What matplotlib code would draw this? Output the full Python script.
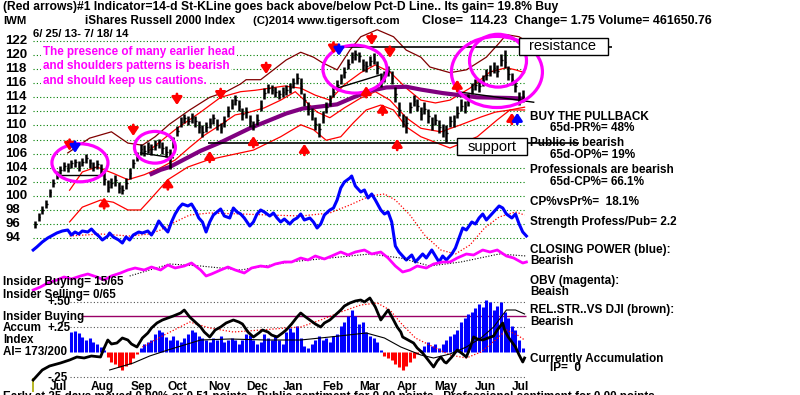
import matplotlib
matplotlib.use('Agg')
import matplotlib.pyplot as plt
from matplotlib.patches import Ellipse, Rectangle
from matplotlib import transforms

plt.rcParams['font.family'] = ['Liberation Sans', 'DejaVu Sans']
plt.rcParams['font.weight'] = 'bold'

W, H = 800, 395

# ---------------- data ----------------
# IWM daily bars, one bar every 2 trading days starting 6/25/13
hi = [96.5, 97.6, 98.5, 99.4, 101.0, 102.4, 103.5, 104.3, 104.8, 104.7,
      105.1, 105.3, 104.9, 105.4, 105.9, 105.2, 104.8, 105.1, 104.5, 103.5,
      102.3, 102.6, 103.0, 102.0, 101.6, 102.6, 104.0, 105.2, 106.3, 107.4,
      107.2, 107.6, 107.3, 107.9, 108.1, 107.6, 107.1, 106.6, 108.3, 109.9,
      111.2, 111.7, 111.4, 111.8, 111.4, 110.6, 110.0, 110.5, 111.0, 111.7,
      110.9, 110.4, 111.4, 112.8, 113.7, 114.3, 113.6, 112.5, 112.6, 111.5,
      110.7, 111.6, 113.6, 115.3, 115.9, 115.8, 115.4, 115.1, 115.4, 115.7,
      116.0, 116.7, 117.4, 116.8, 114.6, 113.4, 112.5, 111.2, 110.4, 112.0,
      113.4, 114.3, 115.5, 116.5, 117.3, 118.3, 119.5, 120.4, 120.7, 120.5,
      119.5, 119.2, 119.9, 120.3, 119.2, 117.4, 117.8, 118.4, 117.8, 115.5,
      113.3, 111.7, 111.4, 113.4, 114.3, 113.7, 112.6, 113.3, 112.3, 111.2,
      111.7, 110.8, 110.2, 110.0, 111.4, 111.5, 112.7, 113.7, 113.5, 114.4,
      116.0, 116.6, 116.5, 117.2, 118.0, 118.6, 119.0, 118.6, 120.2, 120.7,
      118.4, 117.5, 116.5, 114.8, 115.0]
lo = [95.4, 96.4, 97.4, 98.3, 99.9, 101.2, 102.4, 103.1, 103.6, 103.4,
      104.0, 104.1, 103.5, 104.2, 104.7, 103.9, 103.5, 103.8, 103.0, 101.6,
      100.6, 101.1, 101.4, 100.4, 100.3, 101.0, 102.4, 103.9, 104.9, 105.8,
      105.7, 106.1, 105.8, 106.5, 106.8, 106.0, 105.5, 103.8, 106.8, 108.5,
      109.8, 110.3, 110.0, 110.4, 109.8, 109.0, 108.3, 109.1, 109.6, 110.2,
      109.3, 108.9, 109.8, 111.2, 112.3, 112.9, 112.0, 110.8, 111.1, 109.8,
      109.3, 110.0, 112.0, 113.8, 114.6, 114.4, 114.0, 113.7, 114.0, 114.3,
      114.6, 115.3, 115.9, 114.5, 112.8, 111.5, 110.8, 109.3, 108.4, 110.4,
      111.8, 112.7, 114.0, 115.0, 115.9, 116.8, 118.0, 118.9, 119.3, 119.0,
      117.8, 117.6, 118.4, 118.7, 117.3, 115.5, 116.2, 117.0, 115.9, 113.4,
      111.3, 109.8, 109.0, 111.8, 112.7, 112.0, 110.8, 111.6, 110.4, 109.3,
      110.0, 108.9, 108.3, 107.7, 109.8, 109.8, 111.0, 112.0, 111.8, 112.8,
      114.4, 115.0, 114.8, 115.6, 116.4, 117.0, 117.4, 116.9, 118.5, 118.2,
      116.5, 115.8, 114.7, 112.9, 113.4]
close = [96.0, 97.0, 98.0, 98.9, 100.6, 101.8, 102.9, 103.7, 104.2, 104.0,
         104.6, 104.8, 104.2, 104.8, 105.4, 104.6, 104.1, 104.5, 103.8, 102.4,
         101.3, 101.8, 102.2, 101.1, 100.9, 101.8, 103.2, 104.6, 105.6, 106.6,
         106.4, 106.9, 106.6, 107.2, 107.6, 106.8, 106.3, 105.8, 107.6, 109.2,
         110.5, 111.0, 110.7, 111.1, 110.6, 109.8, 109.1, 109.8, 110.3, 111.0,
         110.1, 109.6, 110.6, 112.0, 113.0, 113.6, 112.8, 111.6, 111.9, 110.6,
         109.9, 110.8, 112.8, 114.6, 115.3, 115.1, 114.7, 114.4, 114.7, 115.0,
         115.3, 116.0, 116.7, 115.6, 113.6, 112.3, 111.6, 110.2, 109.5, 111.2,
         112.6, 113.5, 114.8, 115.8, 116.6, 117.6, 118.8, 119.7, 120.1, 119.8,
         118.6, 118.4, 119.2, 119.5, 118.2, 116.4, 117.0, 117.8, 116.8, 114.4,
         112.2, 110.6, 110.4, 112.6, 113.5, 112.8, 111.6, 112.4, 111.3, 110.2,
         110.8, 109.8, 109.2, 108.9, 110.6, 110.6, 111.8, 112.8, 112.6, 113.6,
         115.2, 115.8, 115.6, 116.4, 117.2, 117.8, 118.2, 117.7, 119.3, 119.0,
         117.3, 116.6, 115.6, 113.8, 114.2]
bar_day = list(range(0, 2 * len(hi), 2))

# price overlays: (trading day, price)
ma65_day = [63, 69, 74, 91, 102, 118, 138, 147, 157, 166, 175, 184, 193, 204, 212, 224, 243, 261, 269]
ma65_val = [103.0, 103.7, 104.1, 106.4, 107.6, 109.6, 111.7, 112.4, 112.7, 113.0, 114.0, 114.9,
            115.4, 115.5, 115.1, 114.6, 114.0, 113.9, 113.8]
upper_day = [18, 30, 42, 51, 59, 66, 74, 85, 96, 105, 113, 116, 124, 131, 138, 146, 153, 158, 166,
             173, 179, 188, 197, 204, 212, 217, 228, 237, 248, 255, 259, 266, 269]
upper_val = [106.1, 108.2, 109.1, 107.5, 107.2, 108.4, 110.2, 112.2, 114.0, 114.8, 115.9, 116.5,
             116.5, 117.9, 119.3, 120.4, 119.7, 118.9, 117.9, 120.7, 122.6, 123.6, 122.6, 120.7,
             119.7, 118.3, 117.5, 117.9, 119.7, 121.7, 122.9, 122.6, 122.1]
lower_day = [19, 26, 36, 43, 51, 58, 63, 73, 84, 95, 102, 120, 135, 146, 153, 160, 168, 175, 182,
             190, 197, 204, 212, 217, 228, 243, 254, 261, 269]
lower_val = [96.3, 98.4, 99.4, 99.1, 98.0, 98.0, 99.4, 102.3, 104.1, 105.1, 105.5, 106.5, 108.4,
             110.1, 109.4, 107.9, 108.4, 110.4, 112.2, 112.9, 112.2, 109.8, 108.4, 107.9, 106.8,
             108.4, 110.8, 112.2, 112.6]
band_lo_day = [19, 26, 34, 43, 51, 60, 69, 77, 85, 93, 102, 110, 118, 126, 135, 143, 148, 155, 162,
               170, 179, 187, 195, 204, 212, 223, 234, 245, 253, 261, 269]
band_lo_val = [100.8, 103.4, 104.1, 103.2, 102.3, 103.0, 104.0, 105.1, 106.9, 108.6, 110.1, 111.5,
               111.9, 112.5, 113.6, 114.8, 113.6, 111.9, 111.1, 112.5, 113.9, 114.8, 113.6, 111.1,
               109.6, 109.1, 110.1, 111.2, 111.9, 112.2, 112.2]
band_hi_day = [63, 77, 91, 102, 113, 121, 129, 137, 146, 154, 162, 170, 179, 187, 195, 204, 212,
               220, 228, 239, 250, 259, 264, 269]
band_hi_val = [106.5, 109.4, 111.9, 114.0, 114.8, 115.0, 115.3, 115.6, 115.3, 114.3, 113.6, 115.8,
               117.5, 118.6, 117.6, 115.3, 113.6, 113.2, 113.6, 115.3, 117.6, 118.2, 117.9, 117.5]

# signal arrows: (trading day, price at arrow tip, colour)
down_arrows = [(19, 106.4, 'red'), (22, 106.1, 'blue'), (54, 108.5, 'red'), (78, 112.9, 'red'),
               (102, 113.6, 'red'), (127, 117.3, 'red'), (164, 120.2, 'red'), (167, 119.9, 'blue'),
               (185, 121.4, 'red'), (195, 119.6, 'red')]
up_arrows = [(38, 99.8, 'red'), (73, 102.5, 'red'), (96, 106.4, 'red'), (120, 108.5, 'red'),
             (148, 107.4, 'red'), (182, 115.6, 'red'), (191, 113.1, 'red'), (199, 108.1, 'red'),
             (232, 116.5, 'red'), (262, 111.8, 'red'), (265, 111.8, 'blue')]

support_price = 107.5
resistance_price = 121.15

# Closing Power (blue) and its MA
cp_day = [-1, 1, 4, 7, 9, 12, 15, 18, 20, 22, 24, 26, 29, 31, 33, 35, 37, 40, 41, 43,
          46, 48, 50, 52, 54, 57, 59, 62, 64, 66, 68, 70, 73, 75, 77, 79, 81, 84, 86, 88,
          90, 92, 94, 96, 98, 100, 102, 104, 107, 109, 111, 113, 115, 118, 120, 122, 124, 126, 129, 131,
          133, 135, 137, 140, 142, 144, 146, 148, 151, 153, 155, 157, 159, 162, 164, 166, 168, 170, 173, 174,
          176, 179, 181, 183, 185, 187, 190, 192, 194, 196, 198, 200, 202, 204, 207, 209, 211, 213, 215, 218,
          220, 222, 224, 226, 229, 231, 233, 235, 237, 240, 242, 244, 246, 248, 251, 253, 255, 257, 259, 262,
          264, 266, 268, 270]
cp_val = [0, 3, 8, 12, 14, 17, 19, 20, 15, 18, 16, 19, 18, 21, 17, 14, 10, 14, 17, 13,
          10, 7, 13, 10, 15, 18, 17, 19, 15, 21, 29, 24, 18, 28, 36, 42, 46, 44, 46, 40,
          32, 28, 18, 28, 35, 38, 41, 34, 32, 42, 38, 36, 32, 24, 28, 36, 40, 38, 34, 37,
          32, 28, 31, 26, 30, 32, 36, 30, 32, 28, 22, 26, 35, 40, 42, 50, 62, 68, 72, 74,
          64, 58, 60, 52, 56, 50, 40, 36, 38, 28, 4, -2, -6, -10, -5, -12, -8, -4, -8, 0,
          -6, -12, -6, -10, -4, 2, 12, 22, 20, 28, 26, 32, 36, 30, 36, 40, 44, 42, 36, 32,
          36, 26, 18, 14]
cpma_day = [19, 36, 52, 63, 69, 77, 85, 96, 113, 129, 146, 162, 173, 184, 192, 198, 206, 214, 223,
            231, 239, 247, 255, 264, 269]
cpma_val = [14, 16, 14, 16, 20, 28, 35, 37, 36, 35, 34, 37, 45, 54, 56, 50, 35, 15, 0, -4, 5, 22,
            33, 38, 35]

# OBV (magenta) and its MA
obv_day = [-1, 3, 7, 12, 16, 20, 25, 29, 34, 38, 42, 47, 51, 55, 60, 64, 69, 73, 77, 82,
           86, 91, 94, 97, 102, 106, 110, 115, 119, 124, 128, 132, 137, 141, 146, 150, 154, 159, 163, 168,
           172, 176, 181, 185, 190, 194, 198, 202, 206, 210, 215, 219, 224, 228, 232, 237, 241, 246, 250, 254,
           259, 263, 268, 270]
obv_val = [0, 3, 7, 10, 13, 11, 14, 16, 13, 10, 14, 17, 20, 22, 20, 23, 20, 25, 22, 24,
           27, 20, 14, 16, 20, 23, 20, 17, 22, 24, 23, 26, 28, 28, 32, 30, 34, 31, 34, 38,
           35, 38, 40, 36, 38, 32, 24, 18, 20, 24, 22, 26, 28, 28, 32, 36, 35, 40, 38, 40,
           34, 32, 27, 28]
obvma_day = [52, 74, 91, 113, 140, 162, 184, 201, 217, 234, 255, 270]
obvma_val = [14, 26, 24, 20, 28, 32, 36, 32, 24, 28, 36, 34]

# Accumulation Index histogram, one value every 2 days from day 20
ai = [0.20, 0.21, 0.19, 0.15, 0.12, 0.14, 0.10, 0.08, 0.05, 0.02,
      -0.05, -0.10, -0.12, -0.15, -0.18, -0.14, -0.12, -0.06, -0.02, 0.04,
      0.08, 0.10, 0.12, 0.18, 0.22, 0.20, 0.15, 0.12, 0.16, 0.12,
      0.10, 0.14, 0.18, 0.22, 0.20, 0.16, 0.14, 0.12, 0.10, 0.14,
      0.12, 0.16, 0.10, 0.12, 0.14, 0.12, 0.08, 0.12, 0.18, 0.17,
      0.12, 0.08, 0.10, 0.18, 0.14, 0.12, 0.17, 0.12, 0.08, 0.20,
      0.24, 0.20, 0.26, 0.14, 0.06, 0.04, 0.08, 0.12, 0.16, 0.12,
      0.14, 0.10, 0.16, 0.18, 0.26, 0.30, 0.36, 0.42, 0.36, 0.28,
      0.30, 0.20, 0.16, 0.14, 0.10, 0.02, -0.04, -0.06, -0.08, -0.12,
      -0.15, -0.18, -0.14, -0.10, -0.06, -0.02, 0.02, 0.06, 0.10, 0.06,
      0.08, 0.04, 0.08, 0.12, 0.16, 0.18, 0.22, 0.30, 0.34, 0.38,
      0.40, 0.44, 0.48, 0.45, 0.52, 0.50, 0.42, 0.46, 0.50, 0.40,
      0.34, 0.26, 0.22, 0.12, 0.04]
ai_day = list(range(20, 20 + 2 * len(ai), 2))
insider_level = 0.36

# relative strength (thick black), its MA (thin black), AI MA (red dotted)
rs_day = [-1, 4, 8, 14, 19, 23, 27, 31, 36, 38, 40, 42, 45, 48, 51, 53, 56, 59, 62, 64,
          67, 70, 73, 76, 80, 82, 85, 88, 91, 93, 96, 99, 102, 105, 109, 112, 114, 117, 120, 123,
          125, 128, 130, 133, 136, 138, 141, 144, 146, 148, 151, 154, 157, 159, 162, 165, 168, 170, 173, 176,
          179, 181, 184, 187, 190, 192, 194, 197, 199, 201, 202, 205, 208, 210, 213, 216, 219, 221, 223, 225,
          226, 229, 232, 235, 237, 239, 241, 243, 246, 249, 252, 254, 257, 258, 260, 262, 264, 266, 268, 269]
rs_val = [-0.28, -0.18, -0.14, -0.11, -0.08, -0.05, -0.06, -0.04, -0.05, 0.04,
          0.12, 0.08, 0.09, 0.14, 0.12, 0.08, 0.05, 0.14, 0.19, 0.24,
          0.29, 0.32, 0.34, 0.36, 0.39, 0.42, 0.35, 0.30, 0.25, 0.20,
          0.15, 0.22, 0.25, 0.29, 0.32, 0.30, 0.28, 0.20, 0.15, 0.19,
          0.22, 0.20, 0.17, 0.15, 0.19, 0.22, 0.28, 0.35, 0.39, 0.36,
          0.32, 0.28, 0.25, 0.29, 0.32, 0.37, 0.42, 0.46, 0.49, 0.51,
          0.52, 0.50, 0.54, 0.45, 0.32, 0.37, 0.42, 0.32, 0.25, 0.20,
          0.15, 0.12, 0.09, 0.04, -0.01, -0.08, -0.15, -0.09, -0.05, -0.10,
          -0.11, -0.05, 0.02, -0.02, -0.05, 0.04, 0.15, 0.13, 0.12, 0.14,
          0.16, 0.22, 0.29, 0.22, 0.15, 0.10, 0.05, -0.03, -0.10, -0.06]
rsma_day = [41, 54, 63, 73, 82, 91, 107, 127, 146, 162, 182, 192, 201, 212, 219, 228, 237, 245, 252, 259, 264, 269]
rsma_val = [-0.18, -0.11, -0.04, 0.02, 0.07, 0.12, 0.13, 0.12, 0.12, 0.15, 0.19, 0.14, 0.05, -0.03,
            -0.06, -0.02, 0.05, 0.14, 0.25, 0.42, 0.42, 0.38]
aima_day = [59, 71, 85, 96, 109, 124, 138, 146, 157, 168, 179, 188, 195, 201, 209, 219, 228, 237, 245, 253, 259, 265, 269]
aima_val = [0.05, 0.17, 0.30, 0.24, 0.20, 0.22, 0.24, 0.25, 0.32, 0.40, 0.47, 0.49, 0.42, 0.29, 0.14,
            0.05, -0.03, -0.06, 0.0, 0.12, 0.22, 0.17, 0.12]

price_ticks = list(range(122, 93, -2))
month_labels = ['Jul', 'Aug', 'Sep', 'Oct', 'Nov', 'Dec', 'Jan', 'Feb', 'Mar', 'Apr', 'May', 'Jun', 'Jul']
month_day = [12.6, 36.8, 58.8, 78.0, 101.6, 122.0, 141.8, 163.7, 184.1, 204.4, 225.8, 247.3, 266.5]

right_notes = [('BUY THE PULLBACK', 530, 117), ('65d-PR%= 48%', 550, 128),
               ('Public is bearish', 530, 143), ('65d-OP%= 19%', 550, 155),
               ('Professionals are bearish', 530, 170), ('65d-CP%= 66.1%', 550, 182),
               ('CP%vsPr%=  18.1%', 530, 202), ('Strength Profess/Pub= 2.2', 530, 222),
               ('CLOSING POWER (blue):', 530, 250), ('Bearish', 530, 261),
               ('OBV (magenta):', 530, 281), ('Beaish', 530, 292),
               ('REL.STR..VS DJI (brown):', 530, 310), ('Bearish', 530, 322),
               ('Currently Accumulation', 530, 359), ('IP=  0', 550, 368)]
left_notes = [('Insider Buying= 15/65', 3, 282), ('Insider Selling= 0/65', 3, 295),
              ('+.50', 47, 302), ('Insider Buying', 3, 317), ('Accum', 3, 328), ('+.25', 47, 328),
              ('Index', 3, 340), ('AI= 173/200', 3, 352), ('-.25', 47, 378)]

# ---------------- figure ----------------
fig = plt.figure(figsize=(W / 100, H / 100), dpi=100)
fig.patch.set_facecolor('white')
XL = (-35 / 1.82, (W - 35) / 1.82)


def layer(y0, y1):
    a = fig.add_axes([0, 0, 1, 1])
    a.set_xlim(XL)
    a.set_ylim(y0, y1)
    a.axis('off')
    return a


def fp(x, y):
    return x / W, 1 - y / H


ax = layer(71.72, 127.82)          # price
axcp = layer(-145, 250)            # closing power
axobv = layer(-105, 290)           # OBV
axai = layer(-0.43, 3.52)          # accumulation index

# grid
ax.hlines(price_ticks, -1, 270, colors='#008000', linestyles=(0, (1, 2)), lw=0.8, zorder=1)
axai.hlines([0.50, 0.25, -0.25], 19, 270, colors='#555555', linestyles=(0, (1, 2)), lw=0.8, zorder=1)
axai.hlines([insider_level], 25, 270, colors='#990066', lw=1.0, zorder=2)
axai.vlines([-1], -0.40, -0.26, colors='#aaaa00', lw=1.2)

# price bars
ax.vlines(bar_day, lo, hi, colors='black', lw=1.8, zorder=4)
ax.hlines(close, bar_day, [d + 0.9 for d in bar_day], colors='black', lw=1.0, zorder=4)

ax.plot(upper_day, upper_val, color='#800000', lw=0.9, zorder=3)
ax.plot(lower_day, lower_val, color='red', lw=0.9, zorder=3)
ax.plot(band_lo_day, band_lo_val, color='red', lw=0.9, zorder=3)
ax.plot(band_hi_day, band_hi_val, color='red', lw=0.9, zorder=3)
ax.plot(ma65_day, ma65_val, color='#800080', lw=3, zorder=3, solid_capstyle='butt')

# support / resistance / necklines
ax.hlines(support_price, 95, 299, colors='black', lw=1.2, zorder=3)
ax.hlines(resistance_price, 170, 317, colors='black', lw=1.2, zorder=3)
ax.plot([14, 37], [103.0, 103.0], color='black', lw=1, zorder=3)
ax.plot([58, 76], [106.1, 105.4], color='black', lw=1, zorder=3)
ax.plot([166, 190], [115.3, 117.2], color='black', lw=1, zorder=3)
ax.plot([232, 274], [114.8, 113.3], color='black', lw=1, zorder=3)

# head & shoulders circles
for cx, cy, w, h in [(24.7, 104.7, 30.8, 5.4), (65.9, 106.9, 22.5, 4.5),
                     (175.8, 118.0, 35.2, 6.8), (253.8, 117.6, 50.0, 10.1),
                     (254.4, 119.2, 31.3, 7.5)]:
    ax.add_patch(Ellipse((cx, cy), w, h, fill=False, ec='#ff00ff', lw=2.3, zorder=5))

# arrows
for d, p, c in down_arrows:
    ax.annotate('', xy=(d, p), xytext=(0, 8), textcoords='offset points', zorder=6,
                arrowprops=dict(arrowstyle='-|>,head_width=0.3,head_length=0.45', color=c,
                                lw=2, shrinkA=0, shrinkB=0, mutation_scale=10))
for d, p, c in up_arrows:
    ax.annotate('', xy=(d, p), xytext=(0, -8), textcoords='offset points', zorder=6,
                arrowprops=dict(arrowstyle='-|>,head_width=0.3,head_length=0.45', color=c,
                                lw=2, shrinkA=0, shrinkB=0, mutation_scale=10))

# closing power
axcp.plot(cpma_day, cpma_val, color='red', lw=0.9, ls=(0, (1, 1.5)))
axcp.plot(cp_day, cp_val, color='#0000ff', lw=2.2)

# OBV
axobv.plot(obvma_day, obvma_val, color='black', lw=0.8, ls=(0, (1, 1.5)))
axobv.plot(obv_day, obv_val, color='#ff00ff', lw=2.0)

# accumulation index
ai_col = ['#0000ff' if v >= 0 else '#ff0000' for v in ai]
axai.vlines(ai_day, 0, ai, colors=ai_col, lw=2.2, zorder=2)
axai.plot(aima_day, aima_val, color='red', lw=0.9, ls=(0, (1, 1.5)), zorder=3)
axai.plot(rsma_day, rsma_val, color='black', lw=0.8, zorder=3)
axai.plot(rs_day, rs_val, color='black', lw=2.0, zorder=4)

# price labels
tr = transforms.blended_transform_factory(fig.transFigure, ax.transData)
for t in price_ticks:
    ax.text(5 / W, t, str(t), transform=tr, fontsize=9.5, va='center', ha='left')

# month labels
trm = transforms.blended_transform_factory(ax.transData, fig.transFigure)
for lab, d in zip(month_labels, month_day):
    ax.text(d, 1 - 387 / H, lab, transform=trm, fontsize=8.6, ha='center', va='center')

# header
fs = 8.2
fig.text(*fp(3, 7), '(Red arrows)#1 Indicator=14-d St-KLine goes back above/below Pct-D Line.. Its gain= 19.8% Buy',
         fontsize=8.75, va='center')
fig.text(*fp(3, 21), 'IWM', fontsize=fs, va='center')
fig.text(*fp(85, 21), 'iShares Russell 2000 Index', fontsize=8.4, va='center')
fig.text(*fp(253, 21), '(C)2014 www.tigersoft.com', fontsize=fs, va='center')
fig.text(*fp(422, 21), 'Close=  114.23  Change= 1.75 Volume= 461650.76', fontsize=8.9, va='center')
fig.text(*fp(33, 34), '6/ 25/ 13- 7/ 18/ 14', fontsize=fs, va='center')

# comment box
for i, line in enumerate(['The presence of many earlier head',
                          'and shoulders patterns is bearish',
                          'and should keep us cautions.']):
    fig.text(*fp(43, 52 + 14.5 * i), line, fontsize=8.4, color='#ff00ff', va='center',
             bbox=dict(fc='white', ec='none', pad=1.2), zorder=8)

# resistance / support boxes
fig.add_artist(Rectangle(fp(519, 55), 89 / W, 17 / H, transform=fig.transFigure,
                         fc='white', ec='black', lw=1, zorder=7))
fig.text(*fp(563, 46.5), 'resistance', fontsize=10.5, weight='normal', ha='center', va='center', zorder=8)
fig.add_artist(Rectangle(fp(457, 155), 70 / W, 17 / H, transform=fig.transFigure,
                         fc='white', ec='black', lw=1, zorder=7))
fig.text(*fp(492, 147), 'support', fontsize=10.5, weight='normal', ha='center', va='center', zorder=8)

for txt, x, y in right_notes:
    fig.text(*fp(x, y), txt, fontsize=8.5, va='center')
for txt, x, y in left_notes:
    fig.text(*fp(x, y), txt, fontsize=8.4, va='center', zorder=0)

fig.text(*fp(3, 397), 'Early at 25 days moved 0.00% or 0.51 points   Public sentiment for 0.00 points   '
         'Professional sentiment for 0.00 points', fontsize=8.4, va='center')

fig.savefig('out.png', dpi=100, facecolor='white')
